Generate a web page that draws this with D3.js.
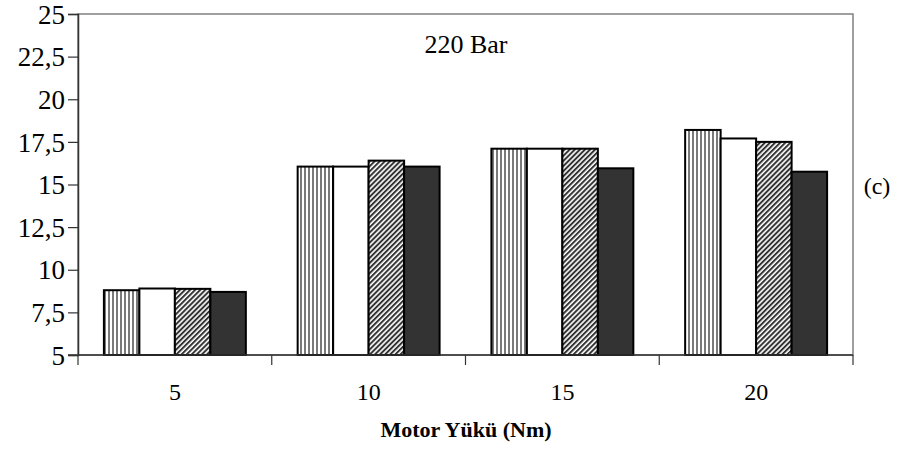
<!DOCTYPE html>
<html><head><meta charset="utf-8">
<script src="https://cdn.jsdelivr.net/npm/d3@7"></script>
<style>body{margin:0;background:#fff}svg{display:block}svg text{font-family:"Liberation Serif","Times New Roman",serif}</style>
</head><body>
<svg id="c" width="917" height="470"></svg>
<script>
const categories = ["5", "10", "15", "20"];
const seriesNames = ["s1", "s2", "s3", "s4"];
const s1 = [8.8, 16.05, 17.1, 18.2];
const s2 = [8.9, 16.05, 17.1, 17.7];
const s3 = [8.88, 16.4, 17.1, 17.5];
const s4 = [8.7, 16.05, 15.95, 15.75];
const yTicks = [5, 7.5, 10, 12.5, 15, 17.5, 20, 22.5, 25];
const yTickLabels = ["5", "7,5", "10", "12,5", "15", "17,5", "20", "22,5", "25"];
const series = [s1, s2, s3, s4];

const svg = d3.select("#c");
const L = 78, R = 853, T = 14, B = 355;
const font = "'Liberation Serif','Times New Roman',serif";

const defs = svg.append("defs");
const pv = defs.append("pattern").attr("id", "pv").attr("patternUnits", "userSpaceOnUse").attr("width", 4).attr("height", 4);
pv.append("rect").attr("width", 4).attr("height", 4).attr("fill", "#fff");
pv.append("rect").attr("width", 2).attr("height", 4).attr("fill", "#7a7a7a");
const pd = defs.append("pattern").attr("id", "pd").attr("patternUnits", "userSpaceOnUse").attr("width", 3.6).attr("height", 3.6).attr("patternTransform", "rotate(45)");
pd.append("rect").attr("width", 3.6).attr("height", 3.6).attr("fill", "#fff");
pd.append("rect").attr("width", 2).attr("height", 3.6).attr("fill", "#333");
const fills = ["url(#pv)", "#fff", "url(#pd)", "#333"];

const y = d3.scaleLinear().domain([5, 25]).range([B, T]);
const x0 = d3.scaleBand().domain(categories).range([L, R]).padding(0);
const x1 = d3.scaleBand().domain(seriesNames).range([0, x0.bandwidth()]).paddingInner(0).paddingOuter(0.73);

// plot border
svg.append("rect").attr("x", L).attr("y", T).attr("width", R - L).attr("height", B - T)
  .attr("fill", "none").attr("stroke", "#808080").attr("stroke-width", 1.5);

// bars
categories.forEach((c, ci) => {
  series.forEach((s, si) => {
    svg.append("rect")
      .attr("x", x0(c) + x1(seriesNames[si]))
      .attr("y", y(s[ci]))
      .attr("width", x1.bandwidth())
      .attr("height", B - y(s[ci]))
      .attr("fill", fills[si])
      .attr("stroke", "#000").attr("stroke-width", 2);
  });
});

// y axis
const yAxis = d3.axisLeft(y).tickValues(yTicks).tickSize(10).tickPadding(3)
  .tickFormat((d, i) => yTickLabels[i]);
const gy = svg.append("g").attr("transform", `translate(${L},0)`).call(yAxis);
gy.select(".domain").attr("stroke", "#333").attr("stroke-width", 1.5);
gy.selectAll(".tick line").attr("stroke", "#333").attr("stroke-width", 1.2);
gy.selectAll("text").attr("font-family", font).attr("font-size", 27).attr("fill", "#000").attr("dy", "0.34em");

// x axis
const gx = svg.append("g");
gx.append("line").attr("x1", L - 10).attr("x2", R).attr("y1", B).attr("y2", B).attr("stroke", "#333").attr("stroke-width", 1.5);
const bounds = categories.map(c => x0(c)).concat([R]);
gx.selectAll(".xt").data(bounds).enter().append("line")
  .attr("x1", d => d).attr("x2", d => d).attr("y1", B).attr("y2", B + 10)
  .attr("stroke", "#333").attr("stroke-width", 1.2);
gx.selectAll(".xl").data(categories).enter().append("text")
  .attr("x", d => x0(d) + x0.bandwidth() / 2).attr("y", 400)
  .attr("text-anchor", "middle").attr("font-family", font).attr("font-size", 24).text(d => d);

svg.append("text").attr("x", 466).attr("y", 437).attr("text-anchor", "middle")
  .attr("font-family", font).attr("font-size", 22).attr("font-weight", "bold").text("Motor Yükü (Nm)");
svg.append("text").attr("x", 466).attr("y", 53).attr("text-anchor", "middle")
  .attr("font-family", font).attr("font-size", 26).text("220 Bar");
svg.append("text").attr("x", 877).attr("y", 194).attr("text-anchor", "middle")
  .attr("font-family", font).attr("font-size", 24).text("(c)");
</script>
</body></html>
